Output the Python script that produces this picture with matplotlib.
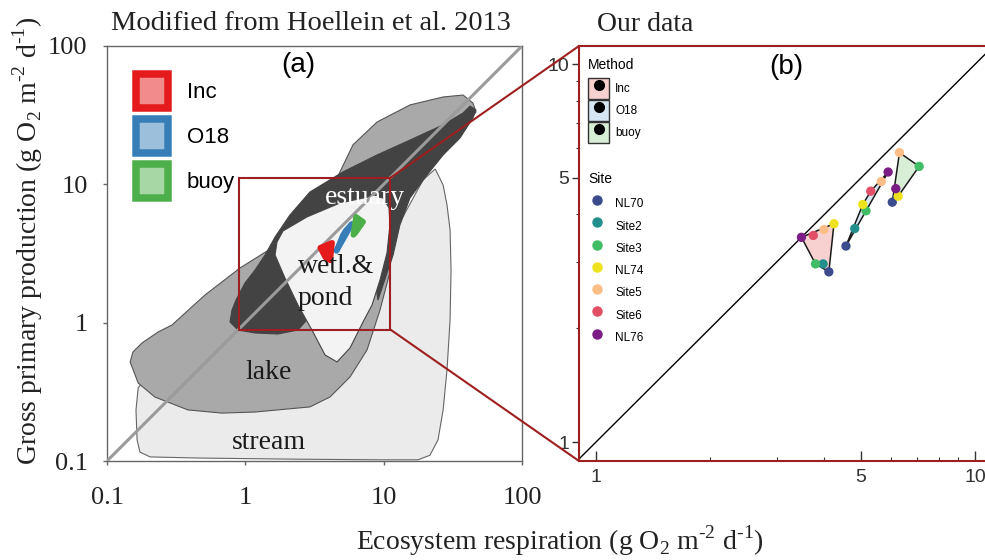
import numpy as np
import matplotlib
matplotlib.use('Agg')
import matplotlib.pyplot as plt
from matplotlib.patches import Polygon, Patch, Rectangle, ConnectionPatch
from matplotlib.lines import Line2D
from matplotlib.ticker import NullLocator, NullFormatter

plt.rcParams['font.family'] = ['Liberation Serif', 'DejaVu Serif']
plt.rcParams['mathtext.fontset'] = 'custom'
plt.rcParams['mathtext.rm'] = 'Liberation Serif'

# ---- panel (a): biome envelopes redrawn from Hoellein et al. 2013 (ER, GPP) ----
stream_er = [0.205, 0.168, 0.162, 0.165, 0.173, 0.205, 0.47, 2.49, 9.41, 17.7, 21.6, 24.7,
             26.9, 28.7, 30.2, 30.7, 30.2, 28.7, 26.9, 23.6, 19.3, 10.2, 4.84]
stream_gpp = [0.44, 0.337, 0.234, 0.142, 0.116, 0.107, 0.105, 0.103, 0.102, 0.102, 0.11, 0.142,
              0.234, 0.455, 1.045, 2.40, 4.68, 7.09, 9.89, 12.9, 10.8, 3.35, 0.354]
lake_er = [0.147, 0.154, 0.179, 0.234, 0.295, 0.511, 0.915, 1.64, 3.58, 4.60, 6.00, 8.95, 15.5,
           26.9, 37.5, 44.2, 46.5, 32.8, 19.9, 13.6, 11.5, 11.1, 9.41, 7.58, 5.71, 4.09, 2.93,
           1.175, 0.678, 0.385, 0.222, 0.168]
lake_gpp = [0.52, 0.614, 0.713, 0.856, 0.962, 1.585, 2.485, 3.58, 8.38, 11.1, 19.3, 28.2, 37.5,
            42.8, 44.2, 38.7, 33.3, 22.7, 12.7, 7.09, 3.96, 2.32, 1.235, 0.635, 0.405, 0.29, 0.246,
            0.226, 0.222, 0.234, 0.29, 0.366]
estuary_er = [0.775, 0.885, 1.175, 1.72, 2.40, 2.70, 4.09, 7.97, 9.10, 10.75, 11.7, 13.1, 15.5,
              20.6, 26.9, 35.6, 44.2, 46.5, 42.1, 37.5, 26.9, 15.5, 8.95, 5.08, 2.93, 2.10, 1.64,
              1.39, 1.175, 0.994, 0.856, 0.801]
estuary_gpp = [1.011, 0.885, 0.842, 0.828, 0.885, 1.011, 2.035, 3.35, 1.458, 2.40, 3.085, 5.08,
               7.97, 11.7, 16.3, 21.6, 30.2, 34.5, 36.8, 32.8, 26.9, 20.9, 16.3, 12.3, 8.80, 6.00,
               4.16, 3.09, 2.40, 1.935, 1.458, 1.235]
wetland_er = [1.694, 1.872, 2.79, 4.835, 8.375, 9.89, 10.93, 11.1, 10.57, 9.41, 8.24, 7.09, 5.71,
              4.60, 3.77, 3.03, 2.40, 1.935, 1.64]
wetland_gpp = [3.83, 4.60, 5.81, 7.33, 8.24, 7.97, 6.75, 5.08, 3.19, 2.035, 1.342, 1.011, 0.656,
               0.52, 0.584, 0.885, 1.342, 2.10, 3.085]

# ---- panel (b): our data ----
sites = ['NL70', 'Site2', 'Site3', 'NL74', 'Site5', 'Site6', 'NL76']
site_colors = ['#3C4B8B', '#21908C', '#40BD65', '#EEE21E', '#FDBD86', '#E24E66', '#7B1D84']
methods = ['Inc', 'O18', 'buoy']
er_inc = [4.11, 3.97, 3.79, 4.24, 3.99, 3.74, 3.48]
gpp_inc = [2.82, 2.96, 2.96, 3.78, 3.65, 3.52, 3.48]
er_o18 = [4.56, 4.81, 5.15, 5.05, 5.65, 5.30, 5.89]
gpp_o18 = [3.30, 3.67, 4.09, 4.25, 4.89, 4.61, 5.18]
er_buoy = [6.04, np.nan, 7.11, 6.26, 6.31, np.nan, 6.17]
gpp_buoy = [4.31, np.nan, 5.36, 4.47, 5.83, np.nan, 4.68]

method_strong = ['#E41A1C', '#377EB8', '#4DAF4A']
method_soft = ['#F28B8C', '#9CBFDC', '#A6D7A4']
method_fill = ['#F7D0D0', '#D7E6F3', '#D9EED7']

lims_a = [0.1, 100]
xlim_b = [0.902, 11.2]
ylim_b = [0.891, 11.16]
zoom_col = '#9E1F1F'


def hull(x, y):
    # convex hull on log axes (monotone chain)
    pts = sorted({(np.log10(a), np.log10(b)) for a, b in zip(x, y) if not np.isnan(a)})
    def cross(o, a, b):
        return (a[0]-o[0])*(b[1]-o[1]) - (a[1]-o[1])*(b[0]-o[0])
    lower, upper = [], []
    for p in pts:
        while len(lower) >= 2 and cross(lower[-2], lower[-1], p) <= 0:
            lower.pop()
        lower.append(p)
    for p in reversed(pts):
        while len(upper) >= 2 and cross(upper[-2], upper[-1], p) <= 0:
            upper.pop()
        upper.append(p)
    h = np.array(lower[:-1] + upper[:-1])
    return 10 ** h


fig = plt.figure(figsize=(9.85, 5.6), dpi=100)
axa = fig.add_axes([107/985, 99/560, 415/985, 415/560])
axb = fig.add_axes([579/985, 99/560, 415/985, 415/560])

# ---------------- panel (a) ----------------
axa.set_xscale('log')
axa.set_yscale('log')
axa.set_xlim(lims_a)
axa.set_ylim(lims_a)

biomes = [(stream_er, stream_gpp, '#ebebeb', '#666666'),
          (lake_er, lake_gpp, '#a9a9a9', '#555555'),
          (estuary_er, estuary_gpp, '#434343', '#434343'),
          (wetland_er, wetland_gpp, '#f3f3f3', '#444444')]
for i, (bx, by, fc, ec) in enumerate(biomes):
    axa.add_patch(Polygon(np.column_stack([bx, by]), closed=True, facecolor=fc,
                          edgecolor=ec, linewidth=0.8, zorder=1 + i))

axa.plot(lims_a, lims_a, color='#9b9b9b', lw=2.2, zorder=5)

all_er = [er_inc, er_o18, er_buoy]
all_gpp = [gpp_inc, gpp_o18, gpp_buoy]
for k in range(3):
    h = hull(all_er[k], all_gpp[k])
    axa.add_patch(Polygon(h, closed=True, facecolor=method_strong[k], edgecolor=method_strong[k],
                          linewidth=4, joinstyle='round', zorder=6))

axa.text(3.77, 7.26, 'estuary', color='white', fontsize=20, zorder=7)
axa.text(2.40, 2.29, 'wetl.&', color='#1a1a1a', fontsize=20, zorder=7)
axa.text(2.40, 1.342, 'pond', color='#1a1a1a', fontsize=20, zorder=7)
axa.text(1.006, 0.394, 'lake', color='#1a1a1a', fontsize=20, zorder=7)
axa.text(0.793, 0.122, 'stream', color='#1a1a1a', fontsize=20, zorder=7)
axa.text(0.460, 0.954, '(a)', transform=axa.transAxes, ha='center', va='center',
         fontsize=20, family='Liberation Sans', zorder=7)

axa.add_patch(Rectangle((xlim_b[0], ylim_b[0]), xlim_b[1] - xlim_b[0], ylim_b[1] - ylim_b[0],
                        fill=False, edgecolor=zoom_col, linewidth=1.5, zorder=8))

ticks_a = [0.1, 1, 10, 100]
axa.set_xticks(ticks_a, ['0.1', '1', '10', '100'])
axa.set_yticks(ticks_a, ['0.1', '1', '10', '100'])
axa.xaxis.set_minor_locator(NullLocator())
axa.yaxis.set_minor_locator(NullLocator())
axa.tick_params(axis='both', direction='out', length=3, width=1, color='#666666',
                labelsize=19, labelcolor='#222222')
axa.tick_params(axis='x', pad=16)
axa.tick_params(axis='y', pad=11)
for s in axa.spines.values():
    s.set_color('#666666')
    s.set_linewidth(1)

leg_a = axa.legend([Patch(facecolor=method_soft[k], edgecolor=method_strong[k], linewidth=5.4)
                    for k in range(3)], methods,
                   loc='upper left', bbox_to_anchor=(0.0693, 0.933), frameon=False,
                   borderpad=0, borderaxespad=0, handlelength=1.46, handleheight=2.01,
                   labelspacing=0.47, handletextpad=0.84,
                   prop={'family': 'Liberation Sans', 'size': 16})
leg_a.set_zorder(9)

# ---------------- panel (b) ----------------
axb.set_xscale('log')
axb.set_yscale('log')
axb.set_xlim(xlim_b)
axb.set_ylim(ylim_b)
axb.plot([0.5, 20], [0.5, 20], color='black', lw=1, zorder=2)

for k in range(3):
    h = hull(all_er[k], all_gpp[k])
    axb.add_patch(Polygon(h, closed=True, facecolor=method_fill[k], edgecolor='#1a1a1a',
                          linewidth=1.1, zorder=3))
for k in range(3):
    for i in range(len(sites)):
        axb.scatter(all_er[k][i], all_gpp[k][i], s=45, color=site_colors[i],
                    edgecolors='none', zorder=4)

axb.text(0.499, 0.949, '(b)', transform=axb.transAxes, ha='center', va='center',
         fontsize=20, family='Liberation Sans')

axb.set_xticks([1, 5, 10], ['1', '5', '10'])
axb.set_yticks([1, 5, 10], ['1', '5', '10'])
minor_b = [2, 3, 4, 6, 7, 8, 9]
axb.set_xticks(minor_b, minor=True)
axb.set_yticks(minor_b, minor=True)
axb.xaxis.set_minor_formatter(NullFormatter())
axb.yaxis.set_minor_formatter(NullFormatter())
axb.tick_params(axis='x', which='major', direction='in', length=7, width=1, color='#333333', pad=6)
axb.tick_params(axis='x', which='minor', direction='in', length=3, width=0.8, color='#333333')
axb.tick_params(axis='y', which='major', direction='out', length=5, width=1, color='#333333', pad=2)
axb.tick_params(axis='y', which='minor', direction='out', length=2.5, width=0.8, color='#333333')
for lab in axb.get_xticklabels() + axb.get_yticklabels():
    lab.set_family('Liberation Sans')
    lab.set_fontsize(14)
    lab.set_color('#333333')
for s in axb.spines.values():
    s.set_color(zoom_col)
    s.set_linewidth(1.5)

method_handles = [(Patch(facecolor=method_fill[k], edgecolor='#333333', linewidth=1),
                   Line2D([], [], marker='o', color='black', linestyle='', markersize=7))
                  for k in range(3)]
leg_m = axb.legend(method_handles, methods, title='Method', loc='upper left',
                   bbox_to_anchor=(0.0217, 0.971), frameon=False, borderpad=0, borderaxespad=0,
                   handlelength=1.8, handleheight=2.37, labelspacing=0.1, handletextpad=0.5,
                   alignment='left', prop={'family': 'Liberation Sans', 'size': 8.5},
                   title_fontproperties={'family': 'Liberation Sans', 'size': 10})
leg_m._legend_box.sep = 4
axb.add_artist(leg_m)

site_handles = [Line2D([], [], marker='o', color=c, linestyle='', markersize=6.5)
                for c in site_colors]
leg_s = axb.legend(site_handles, sites, title='Site', loc='upper left',
                   bbox_to_anchor=(0.0217, 0.696), frameon=False, borderpad=0, borderaxespad=0,
                   handlelength=1.6, handleheight=2.37, labelspacing=0.1, handletextpad=0.7,
                   alignment='left', prop={'family': 'Liberation Sans', 'size': 8.5},
                   title_fontproperties={'family': 'Liberation Sans', 'size': 10})
leg_s._legend_box.sep = 5

# zoom connectors
for ya, yb in [(ylim_b[1], ylim_b[1]), (ylim_b[0], ylim_b[0])]:
    con = ConnectionPatch(xyA=(xlim_b[1], ya), coordsA=axa.transData,
                          xyB=(xlim_b[0], yb), coordsB=axb.transData,
                          color=zoom_col, linewidth=1.5, zorder=10)
    fig.add_artist(con)

fig.text(111/985, 1 - 30.4/560, 'Modified from Hoellein et al. 2013', fontsize=20.5,
         ha='left', va='baseline', color='#222222')
fig.text(597/985, 1 - 30.7/560, 'Our data', fontsize=20, ha='left', va='baseline',
         color='#222222')
unit = r' (g O$_\mathregular{2}$ m$^{\text{-2}}$ d$^{\text{-1}}$)'
fig.text(560/985, 1 - 550/560, 'Ecosystem respiration' + unit, fontsize=20,
         ha='center', va='baseline', color='#222222')
fig.text(28/985, 1 - 241/560, 'Gross primary production' + unit, fontsize=20,
         ha='center', va='center', rotation=90, color='#222222')

fig.savefig('out.png', dpi=100)
